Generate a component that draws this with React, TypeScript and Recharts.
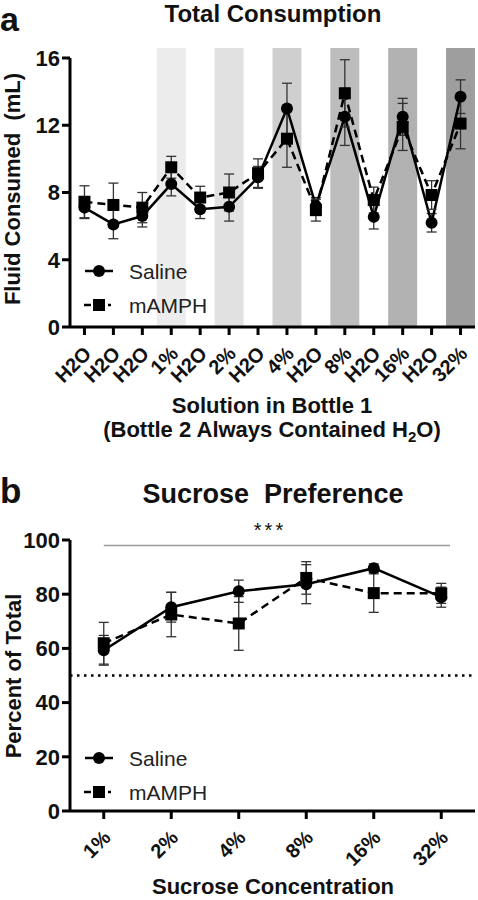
import React from "react";
import { LineChart, Line, XAxis, YAxis, ErrorBar, ReferenceArea, ReferenceLine } from "recharts";

const FONT = "'Liberation Sans', Arial, Helvetica, sans-serif";

// panel a: total consumption (mL), one value per day
const bottleLabels = ["H2O", "H2O", "H2O", "1%", "H2O", "2%", "H2O", "4%", "H2O", "8%", "H2O", "16%", "H2O", "32%"];
const salineTotal = [7.1, 6.1, 6.6, 8.5, 7.0, 7.15, 8.9, 13.0, 7.2, 12.5, 6.55, 12.5, 6.2, 13.7];
const salineTotalSem = [0.65, 0.85, 0.65, 0.7, 0.55, 0.85, 0.65, 1.5, 0.5, 1.7, 0.72, 1.1, 0.55, 1.0];
const mamphTotal = [7.45, 7.26, 7.1, 9.5, 7.7, 8.0, 9.15, 11.2, 6.95, 13.9, 7.55, 11.9, 7.85, 12.1];
const mamphTotalSem = [0.95, 1.3, 0.9, 0.65, 0.67, 1.1, 0.85, 1.7, 0.65, 2.0, 0.77, 1.4, 0.85, 1.5];
const totalTicks = [0, 4, 8, 12, 16];

// sucrose days get a grey band, darker with concentration
const shadeIndex = [3, 5, 7, 9, 11, 13];
const shadeFill = ["#ececec", "#e1e1e1", "#cfcfcf", "#bdbdbd", "#b1b1b1", "#9e9e9e"];

// panel b: sucrose preference (% of total)
const concLabels = ["1%", "2%", "4%", "8%", "16%", "32%"];
const salinePref = [59.3, 75.2, 81.1, 83.7, 89.6, 78.9];
const salinePrefSem = [5.5, 5.5, 4.1, 7.2, 1.6, 3.7];
const mamphPref = [61.9, 72.5, 69.2, 86.0, 80.4, 80.3];
const mamphPrefSem = [7.7, 8.2, 9.9, 6.0, 7.1, 3.7];
const prefTicks = [0, 20, 40, 60, 80, 100];

const seriesNames = ["Saline", "mAMPH"];

const totalData = bottleLabels.map((_, i) => ({
  idx: i,
  saline: salineTotal[i],
  salineErr: salineTotalSem[i],
  mamph: mamphTotal[i],
  mamphErr: mamphTotalSem[i],
}));

const prefData = concLabels.map((_, i) => ({
  idx: i,
  saline: salinePref[i],
  salineErr: salinePrefSem[i],
  mamph: mamphPref[i],
  mamphErr: mamphPrefSem[i],
}));

const axisStyle = { stroke: "#000", strokeWidth: 3 };
const yTickStyle = { fontSize: 22, fontWeight: 700, fill: "#111", fontFamily: FONT };

const CircleDot = (p: any) =>
  p.cx == null ? null : <circle key={p.key} cx={p.cx} cy={p.cy} r={6} fill="#000" />;
const SquareDot = (p: any) =>
  p.cx == null ? null : <rect key={p.key} x={p.cx - 6} y={p.cy - 6} width={12} height={12} fill="#000" />;

const makeTick = (labels: string[]) => (p: any) => {
  const x = p.x + 8;
  const y = p.y + 18;
  return (
    <text
      x={x}
      y={y}
      transform={`rotate(-45 ${x} ${y})`}
      textAnchor="end"
      fontSize={20}
      fontWeight={700}
      fill="#111"
      fontFamily={FONT}
    >
      {labels[p.payload.value]}
    </text>
  );
};

const LegendBlock = ({ top }: { top: number }) => (
  <g>
    {seriesNames.map((name, i) => {
      const y = top + i * 34;
      return (
        <g key={name}>
          {i === 0 ? (
            <>
              <line x1={85} x2={113} y1={y} y2={y} stroke="#000" strokeWidth={2.5} />
              <circle cx={99} cy={y} r={6} fill="#000" />
            </>
          ) : (
            <>
              <line x1={84} x2={91} y1={y} y2={y} stroke="#000" strokeWidth={2.5} />
              <rect x={93} y={y - 6} width={12} height={12} fill="#000" />
              <line x1={108} x2={111} y1={y} y2={y} stroke="#000" strokeWidth={2.5} />
            </>
          )}
          <text x={129} y={y + 7.5} fontSize={21} fill="#222" fontFamily={FONT}>
            {name}
          </text>
        </g>
      );
    })}
  </g>
);

export default function App() {
  return (
    <div style={{ position: "absolute", left: 0, top: 0, width: 478, height: 900, background: "#fff", fontFamily: FONT }}>
      <div style={{ position: "absolute", left: 0, top: 0 }}>
        <LineChart width={478} height={450} data={totalData} margin={{ top: 58, right: 3, bottom: 0, left: 0 }}>
          {shadeIndex.map((s, i) => (
            <ReferenceArea key={s} x1={s - 0.5} x2={s + 0.5} y1={0} y2={16.6} fill={shadeFill[i]} fillOpacity={1} stroke="none" ifOverflow="visible" />
          ))}
          <XAxis
            type="number"
            dataKey="idx"
            domain={[-0.5, 13.5]}
            ticks={bottleLabels.map((_, i) => i)}
            interval={0}
            height={123}
            axisLine={axisStyle}
            tickLine={axisStyle}
            tickSize={8}
            tick={makeTick(bottleLabels)}
          />
          <YAxis
            type="number"
            domain={[0, 16]}
            ticks={totalTicks}
            width={70}
            axisLine={axisStyle}
            tickLine={axisStyle}
            tickSize={8}
            tick={yTickStyle}
          />
          <Line dataKey="saline" stroke="#000" strokeWidth={2.5} dot={CircleDot} isAnimationActive={false}>
            <ErrorBar dataKey="salineErr" direction="y" width={5} stroke="#333" strokeWidth={1.3} isAnimationActive={false} />
          </Line>
          <Line dataKey="mamph" stroke="#000" strokeWidth={2.5} strokeDasharray="8 5" dot={SquareDot} isAnimationActive={false}>
            <ErrorBar dataKey="mamphErr" direction="y" width={5} stroke="#333" strokeWidth={1.3} isAnimationActive={false} />
          </Line>
        </LineChart>
      </div>

      <div style={{ position: "absolute", left: 0, top: 440 }}>
        <LineChart width={478} height={460} data={prefData} margin={{ top: 100, right: 3, bottom: 0, left: 0 }}>
          <ReferenceLine y={50} stroke="#000" strokeWidth={2.5} strokeDasharray="2.5 4.5" />
          <ReferenceLine
            segment={[{ x: 0, y: 98 }, { x: 5.13, y: 98 }]}
            stroke="#999"
            strokeWidth={1.5}
            ifOverflow="visible"
          />
          <XAxis
            type="number"
            dataKey="idx"
            domain={[-0.5, 5.5]}
            ticks={concLabels.map((_, i) => i)}
            interval={0}
            height={89}
            axisLine={axisStyle}
            tickLine={axisStyle}
            tickSize={8}
            tick={makeTick(concLabels)}
          />
          <YAxis
            type="number"
            domain={[0, 100]}
            ticks={prefTicks}
            width={70}
            axisLine={axisStyle}
            tickLine={axisStyle}
            tickSize={8}
            tick={yTickStyle}
          />
          <Line dataKey="saline" stroke="#000" strokeWidth={2.5} dot={CircleDot} isAnimationActive={false}>
            <ErrorBar dataKey="salineErr" direction="y" width={5} stroke="#333" strokeWidth={1.3} isAnimationActive={false} />
          </Line>
          <Line dataKey="mamph" stroke="#000" strokeWidth={2.5} strokeDasharray="8 5" dot={SquareDot} isAnimationActive={false}>
            <ErrorBar dataKey="mamphErr" direction="y" width={5} stroke="#333" strokeWidth={1.3} isAnimationActive={false} />
          </Line>
        </LineChart>
      </div>

      {/* titles, axis titles and legends */}
      <svg width={478} height={900} style={{ position: "absolute", left: 0, top: 0, pointerEvents: "none" }}>
        <g fontFamily={FONT} fontWeight={700} fill="#111">
          <text x={0} y={31} fontSize={34}>a</text>
          <text x={273} y={22} fontSize={24} textAnchor="middle">Total Consumption</text>
          <text transform="translate(20,189) rotate(-90)" fontSize={22} textAnchor="middle" style={{ whiteSpace: "pre" }}>
            Fluid Consumed  (mL)
          </text>
          <text x={272} y={413} fontSize={22} textAnchor="middle">Solution in Bottle 1</text>
          <text x={272} y={437} fontSize={22} textAnchor="middle">
            (Bottle 2 Always Contained H<tspan fontSize={15} dy={5}>2</tspan>
            <tspan dy={-5}>O)</tspan>
          </text>

          <text x={0} y={503} fontSize={35}>b</text>
          <text x={273} y={503} fontSize={27} textAnchor="middle" style={{ whiteSpace: "pre" }}>
            Sucrose  Preference
          </text>
          <text x={270} y={537} fontSize={20} fontWeight={400} letterSpacing={3} textAnchor="middle">***</text>
          <text transform="translate(21,676) rotate(-90)" fontSize={22} textAnchor="middle">Percent of Total</text>
          <text x={273} y={894} fontSize={22} textAnchor="middle">Sucrose Concentration</text>
        </g>
        <LegendBlock top={271} />
        <LegendBlock top={758} />
      </svg>
    </div>
  );
}
